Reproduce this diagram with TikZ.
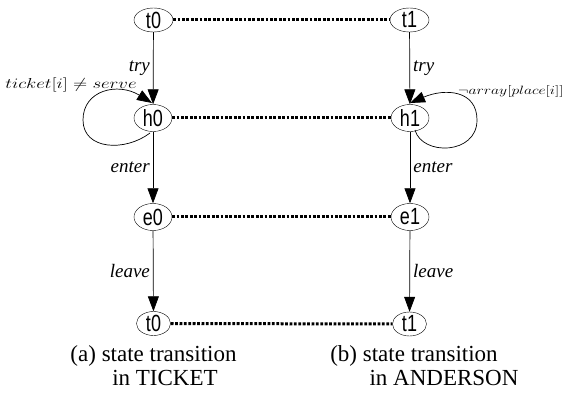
\documentclass[tikz,border=0pt]{standalone}
\usepackage{fontspec}
\setmainfont{Liberation Serif}
\setsansfont{Liberation Sans}
\usetikzlibrary{shapes.geometric,arrows.meta}
\tikzset{
  state/.style={draw, ellipse, inner sep=0pt, minimum width=38pt, minimum height=27pt,
    font=\sffamily\fontsize{18}{18}\selectfont},
  smallstate/.style={state, minimum width=34pt, minimum height=24pt},
  topstate/.style={state, minimum width=39pt, minimum height=24pt},
  trans/.style={draw, line width=0.7pt, -{Triangle[length=15pt,width=11pt]}},
  corr/.style={draw, line width=3pt, dash pattern=on 2.8pt off 1.6pt},
  elabel/.style={font=\itshape\fontsize{19}{19}\selectfont, inner sep=3pt},
  caption/.style={font=\fontsize{23}{23}\selectfont, inner sep=0pt},
  guard/.style={inner sep=0pt, font=\fontsize{14}{14}\selectfont},
}
\newcommand{\tallsans}[1]{\scalebox{1}[1.3]{#1}}
\begin{document}
\begin{tikzpicture}[x=1pt,y=-1pt]
\useasboundingbox (0,0) rectangle (573,398);
% TICKET states
\node[topstate] (t0) at (153.5,20) {\tallsans{t0}};
\node[state] (h0) at (153,118) {\tallsans{h0}};
\node[state] (e0) at (153,217) {\tallsans{e0}};
\node[smallstate] (t0b) at (153.5,323.5) {\tallsans{t0}};
% ANDERSON states
\node[topstate] (t1) at (409.5,20) {\tallsans{t1}};
\node[state] (h1) at (410,118) {\tallsans{h1}};
\node[state] (e1) at (410,217) {\tallsans{e1}};
\node[smallstate] (t1b) at (409.5,324) {\tallsans{t1}};
% correspondences
\draw[corr] (t0) -- (t1);
\draw[corr] (h0) -- (h1);
\draw[corr] (e0) -- (e1);
\draw[corr] (t0b) -- (t1b);
% transitions, left
\draw[trans] (t0) -- node[elabel, left] {try} (h0);
\draw[trans] (h0) -- node[elabel, left] {enter} (e0);
\draw[trans] (e0) -- node[elabel, left] {leave} (t0b);
% transitions, right
\draw[trans] (t1) -- node[elabel, right] {try} (h1);
\draw[trans] (h1) -- node[elabel, right] {enter} (e1);
\draw[trans] (e1) -- node[elabel, right] {leave} (t1b);
% waiting loops
\coordinate (h0s) at (150,133);
\coordinate (h0n) at (152,103);
\draw[trans] (h0s) .. controls (125,152) and (83,150) .. (83,120)
                   .. controls (83,90) and (118,82) .. (h0n);
\node[guard, anchor=base] (lt) at (71,89) {\scalebox{1.3}[1]{$ticket[i] \neq serve$}};
\coordinate (h1s) at (415,130);
\coordinate (h1n) at (410,103);
\draw[trans] (h1s) .. controls (422,156) and (477,155) .. (477,120)
                   .. controls (477,90) and (445,88) .. (h1n);
\node[guard, font=\fontsize{13}{13}\selectfont, anchor=base west] (la) at (458,95)
  {\scalebox{1.3}[1]{$\neg array[place[i]]$}};
% captions
\node[caption] (ca1) at (153.5,356) {(a) state transition};
\node[caption] (ca2) at (165,378) {in TICKET};
\node[caption] (cb1) at (414,356) {(b) state transition};
\node[caption] (cb2) at (444,378) {in ANDERSON};
\end{tikzpicture}
\end{document}
